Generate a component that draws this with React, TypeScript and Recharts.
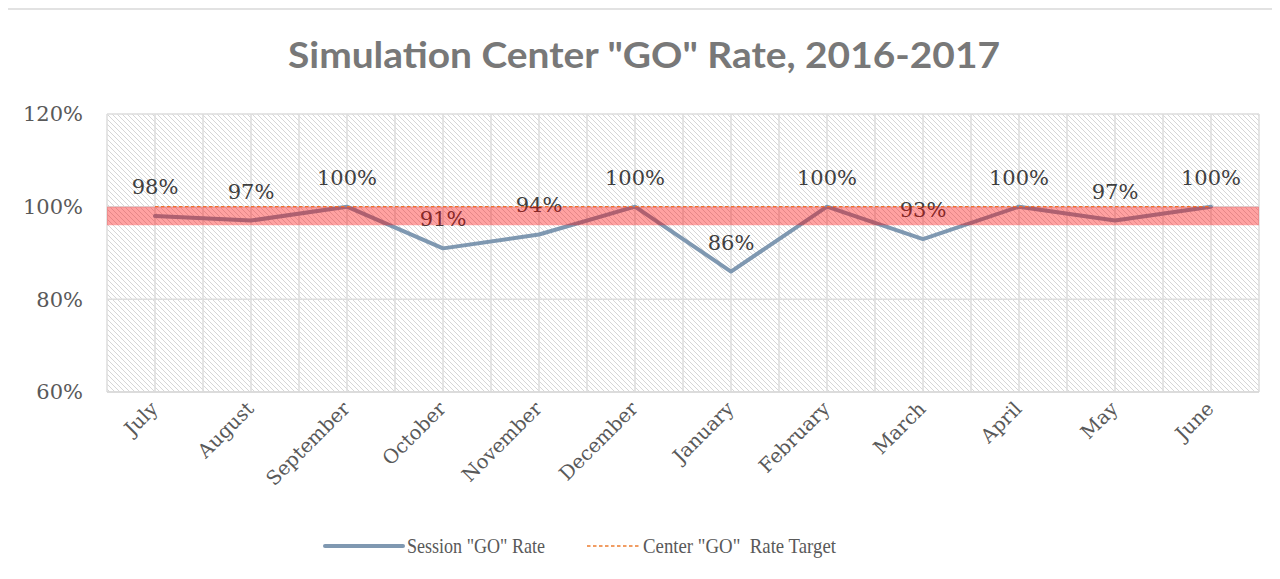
import React from "react";
import {
  LineChart,
  Line,
  XAxis,
  YAxis,
  CartesianGrid,
  ReferenceArea,
  LabelList,
} from "recharts";

const months = [
  "July", "August", "September", "October", "November", "December",
  "January", "February", "March", "April", "May", "June",
];
const sessionRate = [0.98, 0.97, 1.0, 0.91, 0.94, 1.0, 0.86, 1.0, 0.93, 1.0, 0.97, 1.0];
const centerTarget = [1, 1, 1, 1, 1, 1, 1, 1, 1, 1, 1, 1];
const yTicks = [0.6, 0.8, 1.0, 1.2];
const targetBand = [0.96, 1.0];
const title = 'Simulation Center "GO" Rate, 2016-2017';
const seriesNames = ['Session "GO" Rate', 'Center "GO"  Rate Target'];

const data = months.map((m, i) => ({
  month: m,
  rate: sessionRate[i],
  target: centerTarget[i],
}));

const NUM_FONT = "'DejaVu Serif', serif";
const CAT_FONT = "'DejaVu Serif', serif";
const GREY = "#595959";

const pct = (v: number) => `${Math.round(v * 100)}%`;

const XTick = (props: any) => {
  const { x, y, payload } = props;
  const tx = x + 4;
  const ty = y + 18;
  return (
    <text
      x={tx}
      y={ty}
      transform={`rotate(-45 ${tx} ${ty})`}
      textAnchor="end"
      fontFamily={CAT_FONT}
      fontSize={19.5}
      fill={GREY}
    >
      {payload.value}
    </text>
  );
};

export default function App() {
  const W = 1272;
  const H = 569;
  return (
    <div
      style={{
        position: "relative",
        marginLeft: -2,
        width: 1274,
        height: 571,
        borderLeft: "2px solid #E2E2E2",
        borderTop: "2px solid #E2E2E2",
        boxSizing: "border-box",
        overflow: "hidden",
        background: "#fff",
      }}
    >
      <svg width={0} height={0} style={{ position: "absolute" }}>
        <defs>
          <pattern id="hatch" patternUnits="userSpaceOnUse" width="5" height="5">
            <rect x="0" y="0" width="5" height="5" fill="#FFFFFF" />
            <path
              d="M-1,-1 L6,6 M-1,4 L1,6 M4,-1 L6,1"
              stroke="#D6D6D6"
              strokeWidth="1"
            />
          </pattern>
        </defs>
      </svg>
      <LineChart
        width={W}
        height={H}
        data={data}
        margin={{ top: 104, right: 21, left: 9, bottom: 87 }}
      >
        <CartesianGrid
          stroke="#DDDDDD"
          strokeWidth={1.5}
          fill="url(#hatch)"
          fillOpacity={1}
          verticalCoordinatesGenerator={(p: any) => {
            const o = p.offset;
            const n = months.length * 2;
            return Array.from({ length: n + 1 }, (_, k) => o.left + (o.width * k) / n);
          }}
        />
        <XAxis
          dataKey="month"
          scale="band"
          interval={0}
          axisLine={{ stroke: "#D9D9D9", strokeWidth: 1.5 }}
          tickLine={false}
          tickSize={0}
          tickMargin={0}
          height={100}
          tick={<XTick />}
        />
        <YAxis
          domain={[0.6, 1.2]}
          ticks={yTicks}
          tickFormatter={pct}
          axisLine={false}
          tickLine={false}
          tickSize={0}
          tickMargin={24}
          width={90}
          tick={{ fontFamily: NUM_FONT, fontSize: 21, fill: GREY }}
        />
        <Line
          type="linear"
          dataKey="rate"
          stroke="#7F98B1"
          strokeWidth={4}
          strokeLinejoin="round"
          strokeLinecap="round"
          dot={false}
          activeDot={false}
          isAnimationActive={false}
        >
          <LabelList
            dataKey="rate"
            position="top"
            offset={22}
            formatter={(v: any) => pct(Number(v))}
            fill="#404040"
            fontSize={21}
            fontFamily={NUM_FONT}
          />
        </Line>
        <Line
          type="linear"
          dataKey="target"
          stroke="#ED7D31"
          strokeWidth={1.3}
          strokeDasharray="3.5 2.5"
          dot={false}
          activeDot={false}
          isAnimationActive={false}
        />
        <ReferenceArea
          y1={targetBand[0]}
          y2={targetBand[1]}
          fill="#FF0000"
          fillOpacity={0.37}
          stroke="none"
          ifOverflow="visible"
          {...({ zIndex: 5000 } as any)}
        />
      </LineChart>
      <svg
        width={W}
        height={H}
        style={{ position: "absolute", left: 0, top: 0, pointerEvents: "none" }}
      >
        <text
          x={280}
          y={58}
          textLength={712}
          lengthAdjust="spacingAndGlyphs"
          fontFamily="Lato, 'Open Sans', sans-serif"
          fontWeight={700}
          fontSize={36}
          fill="#787878"
        >
          {title}
        </text>
        <line x1={317} y1={536} x2={395} y2={536} stroke="#7F98B1" strokeWidth={4} strokeLinecap="round" />
        <text
          x={399}
          y={543}
          textLength={138}
          lengthAdjust="spacingAndGlyphs"
          fontFamily="'Liberation Serif', serif"
          fontSize={22}
          fill={GREY}
        >
          {seriesNames[0]}
        </text>
        <line x1={579} y1={536} x2={632} y2={536} stroke="#ED7D31" strokeWidth={1.3} strokeDasharray="3.5 2.5" />
        <text
          x={635}
          y={543}
          textLength={193}
          lengthAdjust="spacingAndGlyphs"
          fontFamily="'Liberation Serif', serif"
          fontSize={22}
          fill={GREY}
          style={{ whiteSpace: "pre" }}
        >
          {seriesNames[1]}
        </text>
      </svg>
    </div>
  );
}
